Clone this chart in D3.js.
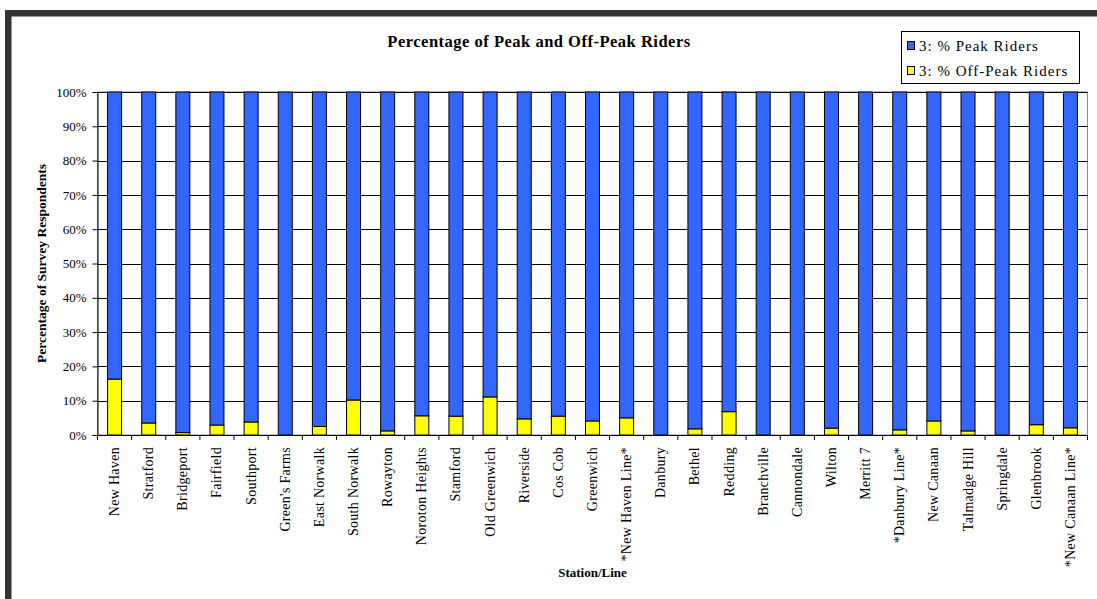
<!DOCTYPE html>
<html>
<head>
<meta charset="utf-8">
<script src="https://cdn.jsdelivr.net/npm/d3@7"></script>
<style>
  html, body { margin: 0; padding: 0; background: #fff; }
  svg { display: block; }
  text { font-family: "Times New Roman", "Liberation Serif", "DejaVu Serif", serif; fill: #000; }
</style>
</head>
<body>
<svg id="chart" width="1097" height="599"></svg>
<script>
// Stations and line totals, west-to-east along each branch
const categories = [
  "New Haven", "Stratford", "Bridgeport", "Fairfield", "Southport", "Green's Farms",
  "East Norwalk", "South Norwalk", "Rowayton", "Noroton Heights", "Stamford",
  "Old Greenwich", "Riverside", "Cos Cob", "Greenwich", "*New Haven Line*",
  "Danbury", "Bethel", "Redding", "Branchville", "Cannondale", "Wilton", "Merritt 7",
  "*Danbury Line*", "New Canaan", "Talmadge Hill", "Springdale", "Glenbrook",
  "*New Canaan Line*"
];

// Share of respondents riding off-peak (%)
const offPeak = [
  16.3, 3.5, 0.7, 2.9, 3.8, 0.0,
  2.5, 10.2, 1.2, 5.6, 5.5,
  11.1, 4.7, 5.5, 4.1, 5.0,
  0.0, 1.8, 6.8, 0.0, 0.0, 2.0, 0.0,
  1.5, 4.1, 1.2, 0.0, 3.0,
  2.1
];

// Share of respondents riding in the peak (%)
const peak = [
  83.7, 96.5, 99.3, 97.1, 96.2, 100.0,
  97.5, 89.8, 98.8, 94.4, 94.5,
  88.9, 95.3, 94.5, 95.9, 95.0,
  100.0, 98.2, 93.2, 100.0, 100.0, 98.0, 100.0,
  98.5, 95.9, 98.8, 100.0, 97.0,
  97.9
];

const yTicks = [0, 10, 20, 30, 40, 50, 60, 70, 80, 90, 100];
const yTickLabels = yTicks.map(v => v + "%");

const seriesNames = ["3: % Off-Peak Riders", "3: % Peak Riders"];
const seriesColors = ["#ffff00", "#3366ff"];

const titleText = "Percentage of Peak and Off-Peak Riders";
const yTitle = "Percentage of Survey Respondents";
const xTitle = "Station/Line";

// ---- layout ----
const W = 1097, H = 599;
const plot = { left: 97.5, right: 1087.5, top: 92, bottom: 435 };

const svg = d3.select("#chart");

svg.append("rect").attr("width", W).attr("height", H).attr("fill", "#fff");

// dark frame along top and left edges
svg.append("rect").attr("x", 5).attr("y", 10).attr("width", W - 5).attr("height", 6.5).attr("fill", "#333");
svg.append("rect").attr("x", 5).attr("y", 10).attr("width", 6.5).attr("height", H - 10).attr("fill", "#333");

const x = d3.scaleBand().domain(categories).range([plot.left, plot.right]).padding(0);
const y = d3.scaleLinear().domain([0, 100]).range([plot.bottom, plot.top]);

// plot area border
svg.append("rect")
  .attr("x", plot.left).attr("y", plot.top)
  .attr("width", plot.right - plot.left).attr("height", plot.bottom - plot.top)
  .attr("fill", "#fff").attr("stroke", "#8c8c8c").attr("stroke-width", 1);

// horizontal gridlines
svg.append("g").selectAll("line")
  .data(yTicks.filter(v => v > 0))
  .join("line")
  .attr("x1", plot.left).attr("x2", plot.right)
  .attr("y1", d => Math.round(y(d)) + 0.5).attr("y2", d => Math.round(y(d)) + 0.5)
  .attr("stroke", "#000").attr("stroke-width", 1);

// stacked bars
const table = categories.map((c, i) => ({ cat: c, off: offPeak[i], peak: peak[i] }));
const stack = d3.stack().keys(["off", "peak"]);
const layers = stack(table);

const barW = x.bandwidth() * 0.41;

svg.append("g").selectAll("g")
  .data(layers)
  .join("g")
  .attr("fill", (d, i) => seriesColors[i])
  .selectAll("rect")
  .data(d => d.filter(p => p[1] - p[0] > 0))
  .join("rect")
  .attr("x", d => x(d.data.cat) + x.bandwidth() / 2 - barW / 2)
  .attr("y", d => y(d[1]))
  .attr("width", barW)
  .attr("height", d => y(d[0]) - y(d[1]))
  .attr("stroke", "#000")
  .attr("stroke-width", 1);

// y axis
const yAxis = d3.axisLeft(y)
  .tickValues(yTicks)
  .tickFormat((d, i) => yTickLabels[i])
  .tickSize(5)
  .tickPadding(6);

const gy = svg.append("g")
  .attr("transform", `translate(${plot.left},0)`)
  .call(yAxis);
gy.select(".domain").attr("stroke", "#000");
gy.selectAll(".tick line").attr("stroke", "#000");
gy.selectAll(".tick text")
  .attr("font-size", 13)
  .attr("font-family", "'Times New Roman', 'Liberation Serif', serif");

// x axis baseline and category boundary ticks
svg.append("line")
  .attr("x1", plot.left).attr("x2", plot.right)
  .attr("y1", plot.bottom + 0.5).attr("y2", plot.bottom + 0.5)
  .attr("stroke", "#000");

const edges = categories.map(c => x(c)).concat([x(categories[categories.length - 1]) + x.bandwidth()]);
svg.append("g").selectAll("line")
  .data(edges)
  .join("line")
  .attr("x1", d => d).attr("x2", d => d)
  .attr("y1", plot.bottom).attr("y2", plot.bottom + 5)
  .attr("stroke", "#000");

// rotated category labels
svg.append("g").selectAll("text")
  .data(categories)
  .join("text")
  .attr("transform", d => `translate(${x(d) + x.bandwidth() / 2 + 4.5},${plot.bottom + 12}) rotate(-90)`)
  .attr("text-anchor", "end")
  .attr("font-size", 14)
  .attr("letter-spacing", 0.3)
  .text(d => d);

// chart title
svg.append("text")
  .attr("x", 539).attr("y", 47)
  .attr("text-anchor", "middle")
  .attr("font-size", 16.5)
  .attr("letter-spacing", 0.5)
  .attr("font-weight", "bold")
  .text(titleText);

// axis titles
svg.append("text")
  .attr("transform", `translate(46,${(plot.top + plot.bottom) / 2}) rotate(-90)`)
  .attr("text-anchor", "middle")
  .attr("font-size", 13.5)
  .attr("font-weight", "bold")
  .text(yTitle);

svg.append("text")
  .attr("x", (plot.left + plot.right) / 2).attr("y", 577)
  .attr("text-anchor", "middle")
  .attr("font-size", 13)
  .attr("font-weight", "bold")
  .text(xTitle);

// legend
const legend = svg.append("g").attr("transform", "translate(901,31)");
legend.append("rect")
  .attr("x", 0.5).attr("y", 0.5).attr("width", 178).attr("height", 52)
  .attr("fill", "#fff").attr("stroke", "#000");

const legendOrder = [1, 0];
legendOrder.forEach((si, row) => {
  const g = legend.append("g").attr("transform", `translate(0,${15 + row * 25})`);
  g.append("rect")
    .attr("x", 6.5).attr("y", -4.5).attr("width", 7).attr("height", 8)
    .attr("fill", seriesColors[si]).attr("stroke", "#000");
  g.append("text")
    .attr("x", 18).attr("y", 5)
    .attr("font-size", 15)
    .attr("letter-spacing", 1)
    .text(seriesNames[si]);
});
</script>
</body>
</html>
